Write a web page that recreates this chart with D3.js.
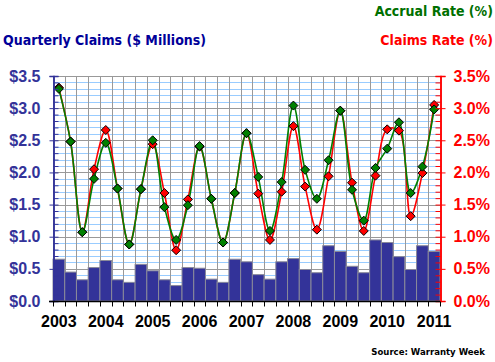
<!DOCTYPE html>
<html>
<head>
<meta charset="utf-8">
<script src="https://cdn.jsdelivr.net/npm/d3@7"></script>
<style>
  body { margin: 0; background: #fff; }
  svg { display: block; }
  .axlbl { font-family: "Liberation Sans", Arial, sans-serif; font-weight: bold; font-size: 16px; }
  .title { font-family: "DejaVu Sans Condensed", "DejaVu Sans", sans-serif; font-weight: bold; font-size: 14px; }
</style>
</head>
<body>
<svg width="495" height="362"></svg>
<script>
// quarterly data, 2003 Q1 .. 2011 Q1
const years = ['2003', '2004', '2005', '2006', '2007', '2008', '2009', '2010', '2011'];
const claims = [0.65, 0.45, 0.33, 0.52, 0.63, 0.33, 0.29, 0.57, 0.47, 0.33, 0.24, 0.52,
  0.51, 0.34, 0.29, 0.65, 0.61, 0.41, 0.34, 0.61, 0.66, 0.49, 0.44, 0.86,
  0.77, 0.54, 0.44, 0.95, 0.91, 0.69, 0.49, 0.86, 0.77];
const accrualRate = [3.30, 2.48, 1.07, 1.90, 2.46, 1.75, 0.88, 1.74, 2.50, 1.46, 0.95, 1.49,
  2.41, 1.59, 0.91, 1.68, 2.61, 1.93, 1.09, 1.85, 3.04, 2.04, 1.59, 2.19,
  2.96, 1.73, 1.25, 2.07, 2.37, 2.78, 1.68, 2.09, 2.98];
const claimsRate = [3.32, 2.48, 1.07, 2.05, 2.66, 1.75, 0.88, 1.74, 2.44, 1.68, 0.79, 1.58,
  2.40, 1.59, 0.91, 1.68, 2.61, 1.67, 0.95, 1.70, 2.72, 1.78, 1.11, 1.94,
  2.96, 1.84, 1.09, 1.95, 2.67, 2.65, 1.32, 1.99, 3.05];
const majorTicks = [0, 0.5, 1, 1.5, 2, 2.5, 3, 3.5];

const svg = d3.select('svg');
const pLeft = 53, pRight = 440, pTop = 76, pBottom = 301;

const x = d3.scaleBand().domain(d3.range(claims.length)).range([pLeft, pRight]).padding(0);
const yL = d3.scaleLinear().domain([0, 3.5]).range([pBottom, pTop]);
const yR = d3.scaleLinear().domain([0, 3.5]).range([pBottom, pTop]);
const minorTicks = d3.range(0, 36).map(d => d / 10);

// grid
const grid = svg.append('g');
grid.selectAll('.minor')
  .data(minorTicks.filter(t => Math.round(t * 10) % 5 !== 0))
  .enter().append('line')
  .attr('x1', pLeft).attr('x2', pRight)
  .attr('y1', d => Math.round(yL(d)) + 0.5).attr('y2', d => Math.round(yL(d)) + 0.5)
  .attr('stroke', '#99ccff');
grid.selectAll('.major')
  .data(majorTicks)
  .enter().append('line')
  .attr('x1', pLeft).attr('x2', pRight)
  .attr('y1', d => Math.round(yL(d)) + 0.5).attr('y2', d => Math.round(yL(d)) + 0.5)
  .attr('stroke', '#999');
grid.selectAll('.vert')
  .data(d3.range(claims.length))
  .enter().append('line')
  .attr('x1', d => Math.round(x(d)) + 0.5).attr('x2', d => Math.round(x(d)) + 0.5)
  .attr('y1', pTop).attr('y2', pBottom)
  .attr('stroke', '#999');

// bars
svg.append('g').selectAll('rect')
  .data(claims)
  .enter().append('rect')
  .attr('x', (d, i) => x(i))
  .attr('width', x.bandwidth())
  .attr('y', d => yL(d))
  .attr('height', d => pBottom - yL(d))
  .attr('fill', '#333399')
  .attr('stroke', '#8a8a9a')
  .attr('stroke-width', 1);

// lines
const cx = i => x(i) + x.bandwidth() / 2;
const line = d3.line()
  .x((d, i) => cx(i))
  .y(d => yR(d))
  .curve(d3.curveCatmullRom.alpha(0.5));
const diamond = 'M0,-4.5L4.5,0L0,4.5L-4.5,0Z';

function drawSeries(values, color) {
  svg.append('path')
    .datum(values)
    .attr('d', line)
    .attr('fill', 'none')
    .attr('stroke', color)
    .attr('stroke-width', 1.6);
}
function drawMarkers(values, color) {
  svg.append('g').selectAll('path')
    .data(values)
    .enter().append('path')
    .attr('d', diamond)
    .attr('transform', (d, i) => 'translate(' + cx(i) + ',' + yR(d) + ')')
    .attr('fill', color)
    .attr('stroke', '#000')
    .attr('stroke-width', 1);
}
drawSeries(claimsRate, '#ff0000');
drawSeries(accrualRate, '#008000');
drawMarkers(claimsRate, '#ff0000');
drawMarkers(accrualRate, '#008000');

// left axis
const gL = svg.append('g').attr('transform', 'translate(' + (pLeft + 0.5) + ',0)');
gL.call(d3.axisLeft(yL).tickValues(majorTicks).tickSize(4).tickPadding(9)
  .tickFormat(d => '$' + d3.format('.1f')(d)));
gL.append('g').call(d3.axisRight(yL).tickValues(minorTicks).tickSize(5).tickFormat(''));
gL.selectAll('.domain').attr('stroke', '#333399').attr('stroke-width', 1.5);
gL.selectAll('line').attr('stroke', '#333399');
gL.selectAll('text').attr('class', 'axlbl').attr('fill', '#333399');

// right axis
const gR = svg.append('g').attr('transform', 'translate(' + (pRight + 0.5) + ',0)');
gR.call(d3.axisRight(yR).tickValues(majorTicks).tickSize(5).tickPadding(8)
  .tickFormat(d => d3.format('.1f')(d) + '%'));
gR.append('g').call(d3.axisLeft(yR).tickValues(minorTicks).tickSize(5).tickFormat(''));
gR.selectAll('.domain').attr('stroke', '#ff0000').attr('stroke-width', 1.5);
gR.selectAll('line').attr('stroke', '#ff0000');
gR.selectAll('text').attr('class', 'axlbl').attr('fill', '#ff0000');

// bottom axis
const gB = svg.append('g').attr('transform', 'translate(0,' + (pBottom + 0.5) + ')');
gB.append('line').attr('x1', pLeft - 4).attr('x2', pRight).attr('stroke', '#000').attr('stroke-width', 1.5);
gB.selectAll('.tk')
  .data(d3.range(claims.length + 1))
  .enter().append('line')
  .attr('x1', d => Math.round(d < claims.length ? x(d) : pRight) + 0.5)
  .attr('x2', d => Math.round(d < claims.length ? x(d) : pRight) + 0.5)
  .attr('y1', 0).attr('y2', 5)
  .attr('stroke', '#000');
gB.selectAll('.yr')
  .data(years)
  .enter().append('text')
  .attr('class', 'axlbl')
  .attr('x', (d, i) => cx(i * 4))
  .attr('y', 25)
  .attr('text-anchor', 'middle')
  .attr('fill', '#000')
  .text(d => d);

// titles
svg.append('text').attr('class', 'title').attr('x', 3).attr('y', 45)
  .attr('fill', '#000099').text('Quarterly Claims ($ Millions)');
svg.append('text').attr('class', 'title').attr('x', 493).attr('y', 16)
  .attr('text-anchor', 'end').attr('fill', '#007000').text('Accrual Rate (%)');
svg.append('text').attr('class', 'title').attr('x', 493).attr('y', 45)
  .attr('text-anchor', 'end').attr('fill', '#ff0000').text('Claims Rate (%)');
svg.append('text').attr('x', 485).attr('y', 355)
  .attr('text-anchor', 'end')
  .style('font-family', '"DejaVu Sans Condensed", "DejaVu Sans", sans-serif')
  .style('font-weight', 'bold').style('font-size', '9.5px')
  .attr('fill', '#000').text('Source: Warranty Week');
</script>
</body>
</html>
